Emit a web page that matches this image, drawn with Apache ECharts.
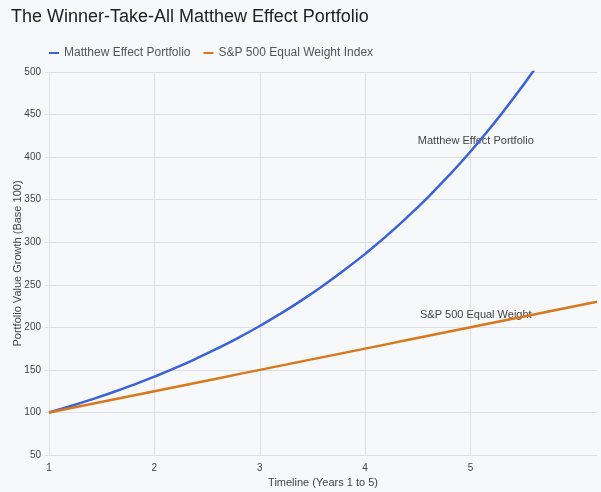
<!DOCTYPE html>
<html>
<head>
<meta charset="utf-8">
<script src="https://cdn.jsdelivr.net/npm/echarts@6/dist/echarts.min.js"></script>
<style>
  html, body { margin: 0; padding: 0; background: #f7f8fa; }
  #chart { width: 601px; height: 492px; }
</style>
</head>
<body>
<div id="chart"></div>
<script>
// timeline in years (sampled every 0.2)
var years = [1, 1.2, 1.4, 1.6, 1.8, 2, 2.2, 2.4, 2.6, 2.8, 3, 3.2, 3.4, 3.6, 3.8,
  4, 4.2, 4.4, 4.6, 4.8, 5, 5.2, 5.4, 5.6, 5.8, 6, 6.2];
// values
var matthew = [100, 107.3, 115.1, 123.4, 132.4, 142, 152.3, 163.4, 175.3, 188, 201.6,
  216.3, 232, 248.9, 267, 286.3, 307.1, 329.5, 353.4, 379.1, 406.6, 436.2, 467.9,
  501.9, 538.3, 577.5, 619.4];
var equalWeight = [100, 105, 110, 115, 120, 125, 130, 135, 140, 145, 150, 155, 160,
  165, 170, 175, 180, 185, 190, 195, 200, 205, 210, 215, 220, 225, 230];
var seriesNames = ["Matthew Effect Portfolio", "S&P 500 Equal Weight Index"];
var xTickValues = [1, 2, 3, 4, 5];
var yTicks = [50, 500, 50]; // min, max, interval

function pairs(xs, ys) {
  return xs.map(function (x, i) { return [x, ys[i]]; });
}

var chart = echarts.init(document.getElementById("chart"));

var option = {
  backgroundColor: "#f7f8fa",
  textStyle: { fontFamily: "Arial, 'Liberation Sans', sans-serif" },
  title: {
    text: "The Winner-Take-All Matthew Effect Portfolio",
    left: 6,
    top: 3,
    textStyle: { fontSize: 18, fontWeight: "normal", color: "#222" },
  },
  legend: {
    data: seriesNames,
    left: 44,
    top: 42,
    itemWidth: 10,
    itemHeight: 2,
    itemGap: 13,
    icon: "rect",
    textStyle: { fontSize: 12, color: "#555" },
  },
  grid: { left: 49, right: 4, top: 72, bottom: 37, outerBoundsMode: "none" },
  xAxis: {
    type: "value",
    min: 1,
    max: 6.2,
    name: "Timeline (Years 1 to 5)",
    nameLocation: "middle",
    nameGap: 22,
    nameMoveOverlap: false,
    nameTextStyle: { fontSize: 11, color: "#444" },
    axisLine: { show: false },
    axisTick: { show: false, customValues: xTickValues },
    axisLabel: { fontSize: 10, color: "#444", margin: 8, customValues: xTickValues },
    splitLine: { lineStyle: { color: "#dcdfe6" } },
  },
  yAxis: {
    type: "value",
    min: yTicks[0],
    max: yTicks[1],
    interval: yTicks[2],
    name: "Portfolio Value Growth (Base 100)",
    nameLocation: "middle",
    nameGap: 26,
    nameMoveOverlap: false,
    nameTextStyle: { fontSize: 11, color: "#444" },
    axisLine: { show: false },
    axisTick: { show: true, length: 4, lineStyle: { color: "#dcdfe6" } },
    axisLabel: { fontSize: 10, color: "#444", margin: 8 },
    splitLine: { lineStyle: { color: "#dcdfe6" } },
  },
  series: [
    {
      name: seriesNames[0],
      type: "line",
      smooth: true,
      showSymbol: false,
      clip: true,
      data: pairs(years, matthew),
      itemStyle: { color: "#3b63d9" },
      lineStyle: { color: "#3b63d9", width: 2.5 },
      markPoint: {
        z: 1,
        symbolSize: 0,
        label: { show: true, position: "inside", fontSize: 11, color: "#444", formatter: "{b}" },
        data: [{ name: "Matthew Effect Portfolio", coord: [5.05, 419] }],
      },
    },
    {
      name: seriesNames[1],
      type: "line",
      showSymbol: false,
      data: pairs(years, equalWeight),
      itemStyle: { color: "#d9771a" },
      lineStyle: { color: "#d9771a", width: 2.5 },
      markPoint: {
        z: 1,
        symbolSize: 0,
        label: { show: true, position: "inside", fontSize: 11, color: "#444", formatter: "{b}" },
        data: [{ name: "S&P 500 Equal Weight", coord: [5.05, 214.5] }],
      },
    },
  ],
};

chart.setOption(option);
</script>
</body>
</html>
